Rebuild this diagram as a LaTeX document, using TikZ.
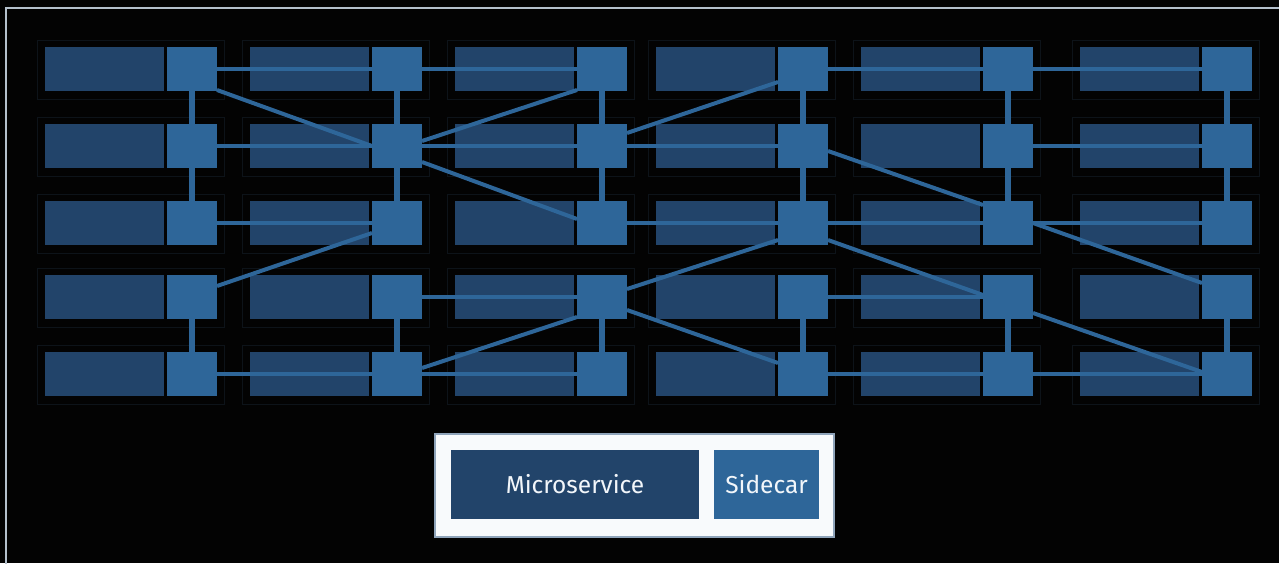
\documentclass[tikz,border=0pt]{standalone}
\usepackage{fontspec}
\setmainfont{Fira Sans}
\usetikzlibrary{calc}
\definecolor{bgblack}{HTML}{030303}
\definecolor{msblue}{HTML}{22446A}
\definecolor{scblue}{HTML}{2E6699}
\definecolor{podline}{HTML}{0D1319}
\definecolor{framegray}{HTML}{B4C0CC}
\definecolor{legendfill}{HTML}{F8FAFC}
\definecolor{legendline}{HTML}{8FA4BA}
\definecolor{labelwhite}{HTML}{F2F6FA}
\pgfdeclarelayer{back}
\pgfdeclarelayer{links}
\pgfsetlayers{back,links,main}
\tikzset{
  micro/.style={fill=msblue, draw=none, minimum width=119pt, minimum height=44pt, inner sep=0pt},
  sidecar/.style={fill=scblue, draw=none, minimum width=50pt, minimum height=44pt, inner sep=0pt},
  podframe/.style={draw=podline, line width=1pt, minimum width=187pt, minimum height=59pt, inner sep=0pt},
  hlink/.style={draw=scblue, line width=4pt},
  vlink/.style={draw=scblue, line width=5.5pt},
  dlink/.style={draw=scblue, line width=4pt},
  legendtext/.style={text=labelwhite, font=\fontsize{24.5}{28}\selectfont}
}
\begin{document}
\begin{tikzpicture}[x=1pt, y=-1pt]
  \useasboundingbox (0,0) rectangle (1279,563);
  \begin{pgfonlayer}{back}
    \fill[bgblack] (0,0) rectangle (1279,563);
  \end{pgfonlayer}
  % outer frame, running past the right and bottom edges
  \begin{scope}
    \clip (0,0) rectangle (1279,563);
    \draw[framegray, line width=2pt] (6,8) rectangle (1300,600);
  \end{scope}

  % pods: a microservice with its sidecar
  \foreach \c/\mx in {1/45, 2/250, 3/455, 4/656, 5/861, 6/1080} {
    \foreach \r/\ty in {1/47, 2/124, 3/201, 4/275, 5/352} {
      \node[sidecar] (s\c\r) at (\mx+147, \ty+22) {};
      \begin{pgfonlayer}{back}
        \node[podframe] (p\c\r) at (\mx+85.5, \ty+22.5) {};
        \node[micro] (m\c\r) at (\mx+59.5, \ty+22) {};
      \end{pgfonlayer}
    }
  }

  \begin{pgfonlayer}{links}
    % vertical links inside each column
    \foreach \c in {1,...,6} {
      \draw[vlink] (s\c1) -- (s\c2);
      \draw[vlink] (s\c2) -- (s\c3);
      \draw[vlink] (s\c4) -- (s\c5);
    }
    % horizontal links along the rows
    \foreach \a/\b in {11/21, 21/31, 41/51, 51/61,
                       12/22, 22/32, 32/42, 52/62,
                       13/23, 33/43, 43/53, 53/63,
                       24/34, 44/54,
                       15/25, 25/35, 45/55, 55/65} {
      \draw[hlink] (s\a.center) -- (s\b.center);
    }
    % diagonal links between rows
    \foreach \a/\ax/\ay/\b/\bx/\by in {
        11/25/21/22/-25/0,
        22/25/-5/31/-25/21,
        22/25/16/33/-25/-4,
        14/25/-11/23/-25/10,
        32/25/-13/41/-25/13,
        25/25/-6/34/-25/20,
        34/25/-8/43/-25/17,
        34/25/13/45/-25/-11,
        42/25/5/53/-25/-18,
        43/25/17/54/-25/-2,
        53/25/0/64/-25/-14,
        54/25/16/65/-25/-2} {
      \draw[dlink] ($(s\a.center)+(\ax,\ay)$) -- ($(s\b.center)+(\bx,\by)$);
    }
  \end{pgfonlayer}

  % legend
  \node[fill=legendfill, draw=legendline, line width=1.2pt, minimum width=399pt, minimum height=103pt, inner sep=0pt] (legend) at (634.5,485.5) {};
  \node[micro, minimum width=248pt, minimum height=69pt, legendtext] (legendms) at (575,484.5) {Microservice};
  \node[sidecar, minimum width=105pt, minimum height=69pt, legendtext] (legendsc) at (766.5,484.5) {Sidecar};
\end{tikzpicture}
\end{document}
